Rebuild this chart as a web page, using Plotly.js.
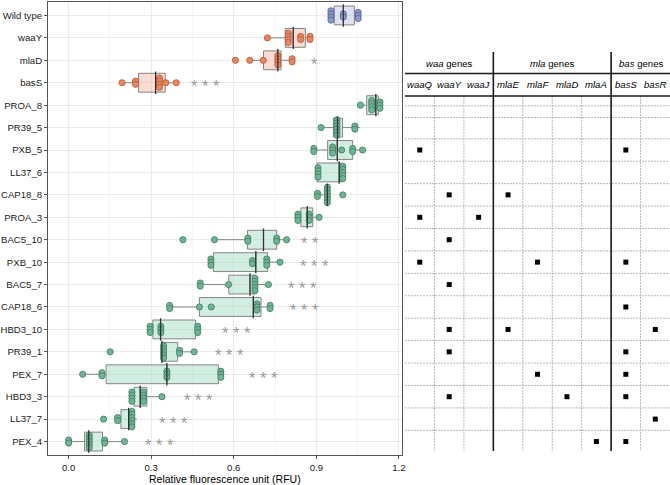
<!DOCTYPE html>
<html><head><meta charset="utf-8">
<script src="https://cdn.plot.ly/plotly-3.0.1.min.js"></script>
<style>html,body{margin:0;padding:0;background:#fff;}#chart{width:670px;height:485px;}</style>
</head><body><div id="chart"></div>
<script>
// ---------------- data ----------------
const categories = ['Wild type','waaY','mlaD','basS','PROA_8','PR39_5','PXB_5','LL37_6','CAP18_8','PROA_3',
  'BAC5_10','PXB_10','BAC5_7','CAP18_6','HBD3_10','PR39_1','PEX_7','HBD3_3','LL37_7','PEX_4'];
const groups = ['wt','single','single','single','evolved','evolved','evolved','evolved','evolved','evolved',
  'evolved','evolved','evolved','evolved','evolved','evolved','evolved','evolved','evolved','evolved'];

// individual replicate values (RFU), one array per strain, same order as categories
const dotValues = [
  [0.953,0.953,0.953,0.953,0.998,0.998,1.052,1.052,1.052],        // Wild type
  [0.722,0.798,0.798,0.798,0.798,0.843,0.843,0.877,0.877],        // waaY
  [0.606,0.658,0.707,0.760,0.760,0.760,0.760,0.812,0.812],        // mlaD
  [0.194,0.243,0.243,0.330,0.330,0.330,0.330,0.353,0.391],        // basS
  [1.060,1.101,1.101,1.101,1.101,1.131,1.131,1.131],              // PROA_8
  [0.917,0.975,0.975,0.975,0.975,0.975,0.975,1.040,1.040],        // PR39_5
  [0.891,0.891,0.959,0.959,0.959,0.992,1.032,1.032,1.068],        // PXB_5
  [0.906,0.906,0.906,0.906,0.996,0.996,0.996,0.996,0.996],        // LL37_6
  [0.904,0.904,0.940,0.940,0.940,0.940,0.940,0.940,0.996],        // CAP18_8
  [0.833,0.833,0.833,0.874,0.874,0.874,0.910],                    // PROA_3
  [0.415,0.530,0.651,0.651,0.756,0.756,0.792],                    // BAC5_10
  [0.517,0.517,0.517,0.668,0.668,0.720,0.720,0.720,0.768],        // PXB_10
  [0.478,0.478,0.581,0.677,0.677,0.677,0.677,0.677,0.726],        // BAC5_7
  [0.367,0.367,0.475,0.518,0.684,0.684,0.684,0.732,0.732],        // CAP18_6
  [0.296,0.296,0.296,0.335,0.335,0.335,0.469,0.469,0.469],        // HBD3_10
  [0.151,0.345,0.345,0.345,0.345,0.345,0.403,0.403,0.456],        // PR39_1
  [0.051,0.121,0.121,0.357,0.357,0.357,0.553,0.553,0.553],        // PEX_7
  [0.230,0.230,0.230,0.230,0.272,0.272,0.272,0.272,0.339],        // HBD3_3
  [0.127,0.178,0.178,0.230,0.230,0.230,0.230,0.230,0.230],        // LL37_7
  [0.000,0.000,0.075,0.075,0.075,0.075,0.075,0.131,0.131,0.203]   // PEX_4
];

// box statistics
const boxQ1     = [0.965,0.787,0.708,0.254,1.083,0.962,0.941,0.903,0.935,0.844,0.650,0.526,0.582,0.475,0.306,0.337,0.136,0.238,0.190,0.058];
const boxMedian = [0.998,0.816,0.760,0.316,1.116,0.977,0.976,0.983,0.940,0.867,0.708,0.680,0.659,0.671,0.334,0.339,0.357,0.260,0.218,0.073];
const boxQ3     = [1.038,0.860,0.772,0.351,1.125,0.995,1.032,0.992,0.945,0.887,0.756,0.723,0.677,0.699,0.461,0.396,0.544,0.284,0.224,0.123];
const boxLow    = [0.953,0.722,0.658,0.194,1.060,0.917,0.891,0.903,0.893,0.819,0.530,0.526,0.478,0.367,0.306,0.337,0.051,0.221,0.190,0.000];
const boxHigh   = [1.052,0.877,0.812,0.391,1.131,1.058,1.068,1.009,0.945,0.910,0.792,0.768,0.726,0.732,0.461,0.456,0.544,0.339,0.248,0.203];

// significance labels and their x value (RFU)
const sigLabels = ['','','*','***','','','','','','','**','***','***','***','***','***','***','***','***','***'];
const sigX      = [null,null,0.873,0.439,null,null,null,null,null,null,0.838,0.832,0.790,0.798,0.550,0.524,0.647,0.411,0.321,0.270];

// mutation table
const geneNames  = ['waaQ','waaY','waaJ','mlaE','mlaF','mlaD','mlaA','basS','basR'];
const geneGroups = ['waa','mla','bas'];
const mutStrain = ['PXB_5','PXB_5','CAP18_8','CAP18_8','PROA_3','PROA_3','BAC5_10','PXB_10','PXB_10','PXB_10','BAC5_7',
  'CAP18_6','HBD3_10','HBD3_10','HBD3_10','PR39_1','PR39_1','PEX_7','PEX_7','HBD3_3','HBD3_3','HBD3_3','LL37_7','PEX_4','PEX_4'];
const mutGene   = ['waaQ','basS','waaY','mlaE','waaQ','waaJ','waaY','waaQ','mlaF','basS','waaY',
  'basS','waaY','mlaE','basR','waaY','basS','mlaF','basS','waaY','mlaD','basS','basR','mlaA','basS'];

// ---------------- styles ----------------
const style = {
  wt:      {dot:'#8b9bc9', dotLine:'#4f5e8f', fill:'rgba(178,190,222,0.45)'},
  single:  {dot:'#e8865f', dotLine:'#b4573a', fill:'rgba(247,178,150,0.45)'},
  evolved: {dot:'#6cb595', dotLine:'#3d7b60', fill:'rgba(160,218,192,0.48)'}
};
const stackStep = 0.138;
const idx = categories.map((c,i)=>i);

const traces = [];
// boxes
['wt','single','evolved'].forEach(g=>{
  const ii = idx.filter(i=>groups[i]===g);
  traces.push({type:'box', orientation:'h', xaxis:'x', yaxis:'y',
    y: ii, q1: ii.map(i=>boxQ1[i]), median: ii.map(i=>boxMedian[i]), q3: ii.map(i=>boxQ3[i]),
    lowerfence: ii.map(i=>boxLow[i]), upperfence: ii.map(i=>boxHigh[i]),
    width:0.84, whiskerwidth:0, boxpoints:false, fillcolor:style[g].fill,
    line:{color:'#858585', width:1}, hoverinfo:'skip'});
});
// dots (stacked dotplot)
['wt','single','evolved'].forEach(g=>{
  const xs=[], ys=[];
  idx.filter(i=>groups[i]===g).forEach(i=>{
    const counts = {};
    dotValues[i].forEach(v=>{counts[v]=(counts[v]||0)+1;});
    Object.keys(counts).forEach(k=>{
      const n = counts[k];
      for(let j=0;j<n;j++){ xs.push(+k); ys.push(i + (j-(n-1)/2)*stackStep); }
    });
  });
  traces.push({type:'scatter', mode:'markers', xaxis:'x', yaxis:'y', x:xs, y:ys,
    marker:{size:6.2, color:style[g].dot, line:{color:style[g].dotLine, width:0.8}}, hoverinfo:'skip'});
});
// median lines on top
traces.push({type:'scatter', mode:'markers', xaxis:'x', yaxis:'y', x:boxMedian, y:idx,
  marker:{symbol:'line-ns', size:16, line:{color:'#333333', width:1.3}}, hoverinfo:'skip'});
// table marks
traces.push({type:'scatter', mode:'markers', xaxis:'x2', yaxis:'y2',
  x: mutGene, y: mutStrain.map(s=>categories.indexOf(s)),
  marker:{symbol:'square', size:5, color:'#000'}, hoverinfo:'skip'});

// ---------------- table geometry (in row units) ----------------
const tTop = 1.63, tMid = 2.59, tHead = 3.59, tBottom = 19.42;
const shapes = [];
const thick = {color:'#1a1a1a', width:1.6};
const dash = {color:'#b8b8b8', width:1, dash:'2px,1px'};
[tMid, tHead].forEach(y=>shapes.push({type:'line', xref:'x2 domain', yref:'y2', x0:0, x1:1, y0:y, y1:y, line:thick}));
const rowLines = [4.03, 4.55];
for(let r=5;r<categories.length-1;r++) rowLines.push(r+0.5);
rowLines.forEach(y=>shapes.push({type:'line', xref:'x2 domain', yref:'y2', x0:0, x1:1, y0:y, y1:y, line:dash, layer:'below'}));
[0.5,1.5,3.5,4.5,5.5,7.5].forEach(x=>shapes.push({type:'line', xref:'x2', yref:'y2', x0:x, x1:x, y0:tHead, y1:tBottom, line:dash, layer:'below'}));
[2.5,6.5].forEach(x=>shapes.push({type:'line', xref:'x2', yref:'y2', x0:x, x1:x, y0:tTop, y1:tBottom, line:thick}));

const annotations = [];
const groupCenters = [1, 4.5, 7.5];
geneGroups.forEach((g,k)=>annotations.push({xref:'x2', yref:'y2', x:groupCenters[k], y:(tTop+tMid)/2+0.02,
  text:'<i>'+g+'</i> genes', showarrow:false, font:{size:9.6, color:'#000'}}));
geneNames.forEach((g,k)=>annotations.push({xref:'x2', yref:'y2', x:k, y:(tMid+tHead)/2,
  text:'<i>'+g+'</i>', showarrow:false, font:{size:9.6, color:'#000'}}));
sigLabels.forEach((s,i)=>{ if(!s) return;
  annotations.push({xref:'x', yref:'y', x:sigX[i], y:i, xanchor:'left', yanchor:'middle', yshift:-3.5,
    text:s.split('').join(' '), showarrow:false, font:{size:16.5, color:'#999999'}});
});

const layout = {
  width:670, height:485, margin:{l:48, r:0, t:2, b:30},
  paper_bgcolor:'#ffffff', plot_bgcolor:'#ffffff', showlegend:false, boxmode:'overlay',
  font:{family:'"Liberation Sans", Arial, Helvetica, sans-serif', size:9.6, color:'#000'},
  xaxis:{domain:[0,0.5686], range:[-0.075,1.21], tickvals:[0,0.3,0.6,0.9,1.2], ticktext:['0.0','0.3','0.6','0.9','1.2'],
    ticks:'outside', ticklen:3, tickcolor:'#555', tickfont:{size:9.6, color:'#222'},
    showgrid:true, gridcolor:'#ebebeb', gridwidth:1, minor:{showgrid:true, gridcolor:'#f5f5f5', tickvals:[0.15,0.45,0.75,1.05]},
    zeroline:false, showline:true, mirror:true, linecolor:'#555', linewidth:1,
    title:{text:'Relative fluorescence unit (RFU)', font:{size:10.5, color:'#000'}, standoff:3}},
  yaxis:{domain:[0,1], range:[19.6,-0.6], tickvals:idx, ticktext:categories,
    ticks:'outside', ticklen:3, tickcolor:'#555', tickfont:{size:9.6, color:'#222'},
    showgrid:true, gridcolor:'#ebebeb', zeroline:false, showline:true, mirror:true, linecolor:'#555', linewidth:1},
  xaxis2:{domain:[0.574,1], anchor:'y2', type:'category', categoryarray:geneNames, categoryorder:'array',
    range:[-0.5,8.5], visible:false},
  yaxis2:{domain:[0,1], anchor:'x2', range:[19.6,-0.6], visible:false},
  shapes, annotations
};
Plotly.newPlot('chart', traces, layout, {staticPlot:true, displayModeBar:false});
</script></body></html>
